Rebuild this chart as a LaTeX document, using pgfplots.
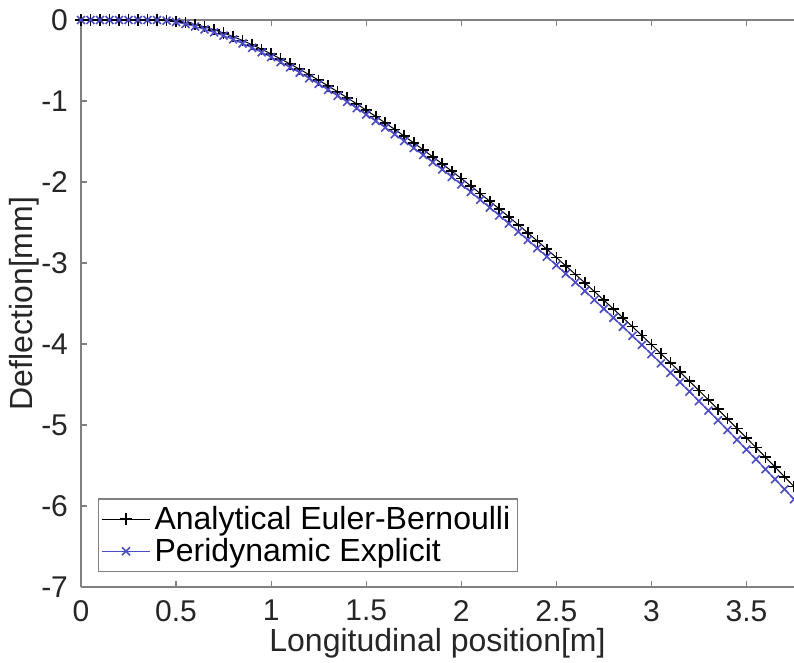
\documentclass[border=0pt]{standalone}
\usepackage{pgfplots}
\pgfplotsset{compat=1.18}
\usepackage{pgfplotstable}
\usepackage{fontspec}
\setmainfont{Liberation Sans}
\definecolor{pdblue}{rgb}{0.30,0.30,0.78}
\definecolor{axgray}{rgb}{0.50,0.50,0.50}
\pgfplotstableread{
x y
0 0
0.05 0
0.1 0
0.15 0
0.2 0
0.25 0
0.3 0
0.35 0
0.4 0
0.45 -0.003
0.5 -0.014
0.55 -0.031
0.6 -0.055
0.65 -0.085
0.7 -0.120
0.75 -0.160
0.8 -0.205
0.85 -0.254
0.9 -0.306
0.95 -0.361
1.0 -0.419
1.05 -0.480
1.1 -0.543
1.15 -0.608
1.2 -0.675
1.25 -0.743
1.3 -0.814
1.35 -0.886
1.4 -0.960
1.45 -1.036
1.5 -1.113
1.55 -1.191
1.6 -1.270
1.65 -1.351
1.7 -1.433
1.75 -1.517
1.8 -1.602
1.85 -1.689
1.9 -1.777
1.95 -1.866
2.0 -1.957
2.05 -2.049
2.1 -2.143
2.15 -2.237
2.2 -2.333
2.25 -2.430
2.3 -2.528
2.35 -2.628
2.4 -2.728
2.45 -2.830
2.5 -2.932
2.55 -3.036
2.6 -3.140
2.65 -3.245
2.7 -3.352
2.75 -3.459
2.8 -3.567
2.85 -3.676
2.9 -3.786
2.95 -3.896
3.0 -4.007
3.05 -4.119
3.1 -4.232
3.15 -4.345
3.2 -4.459
3.25 -4.574
3.3 -4.690
3.35 -4.806
3.4 -4.923
3.45 -5.041
3.5 -5.159
3.55 -5.278
3.6 -5.398
3.65 -5.518
3.7 -5.639
3.75 -5.760
}\analytic
\pgfplotstableread{
x y
0 0
0.05 0
0.1 0
0.15 0
0.2 0
0.25 0
0.3 0
0.35 0
0.4 0
0.45 -0.008
0.5 -0.025
0.55 -0.050
0.6 -0.080
0.65 -0.117
0.7 -0.153
0.75 -0.194
0.8 -0.240
0.85 -0.290
0.9 -0.343
0.95 -0.399
1.0 -0.458
1.05 -0.521
1.1 -0.585
1.15 -0.651
1.2 -0.720
1.25 -0.789
1.3 -0.862
1.35 -0.936
1.4 -1.011
1.45 -1.089
1.5 -1.168
1.55 -1.247
1.6 -1.328
1.65 -1.411
1.7 -1.495
1.75 -1.580
1.8 -1.667
1.85 -1.756
1.9 -1.846
1.95 -1.937
2.0 -2.030
2.05 -2.124
2.1 -2.220
2.15 -2.316
2.2 -2.414
2.25 -2.514
2.3 -2.614
2.35 -2.716
2.4 -2.818
2.45 -2.922
2.5 -3.027
2.55 -3.133
2.6 -3.239
2.65 -3.346
2.7 -3.456
2.75 -3.565
2.8 -3.676
2.85 -3.787
2.9 -3.899
2.95 -4.012
3.0 -4.125
3.05 -4.240
3.1 -4.355
3.15 -4.471
3.2 -4.587
3.25 -4.705
3.3 -4.823
3.35 -4.942
3.4 -5.061
3.45 -5.182
3.5 -5.303
3.55 -5.424
3.6 -5.547
3.65 -5.669
3.7 -5.793
3.75 -5.917
}\peri
\begin{document}
\begin{tikzpicture}
\path[use as bounding box] (-40.5pt,-38pt) rectangle (356.5pt,293.5pt);
\begin{axis}[
  at={(0pt,0pt)}, anchor=south west,
  scale only axis,
  width=356.5pt, height=283.5pt,
  xmin=0, xmax=3.75, ymin=-7, ymax=0,
  xtick={0,0.5,...,3.5}, ytick={-7,-6,...,0},
  axis x line=box, axis y line=left,
  axis line style={-, draw=axgray, line width=0.6pt},
  tick align=inside,
  major tick length=3pt,
  tick style={draw=axgray, line width=0.6pt},
  /pgf/number format/assume math mode=true,
  ticklabel style={font=\fontsize{15}{17}\selectfont, text=black!85},
  xticklabel style={yshift=-3pt},
  yticklabel style={xshift=-3pt},
  xlabel={Longitudinal position[m]},
  ylabel={Deflection[mm]},
  label style={font=\fontsize{16}{19}\selectfont, text=black!85},
  xlabel style={yshift=3.5pt},
  ylabel style={yshift=-6pt},
  legend cell align=left,
  legend style={at={(0.0238,0.0265)}, anchor=south west,
    draw=axgray, line width=0.6pt, font=\fontsize{16}{17}\selectfont,
    inner sep=1.5pt, row sep=-1pt},
  legend image code/.code={\draw[mark repeat=2,mark phase=2] plot coordinates {(0cm,0cm) (0.42cm,0cm) (0.84cm,0cm)};},
]
\addplot[black, line width=0.5pt, mark=+, mark size=2.8pt, mark options={line width=0.8pt}] table[x=x,y=y] {\analytic};
\addlegendentry{Analytical Euler-Bernoulli}
\addplot[pdblue, line width=0.6pt, mark=x, mark size=2.8pt, mark options={line width=0.8pt}] table[x=x,y=y] {\peri};
\addlegendentry{Peridynamic Explicit}
\end{axis}
\end{tikzpicture}
\end{document}
